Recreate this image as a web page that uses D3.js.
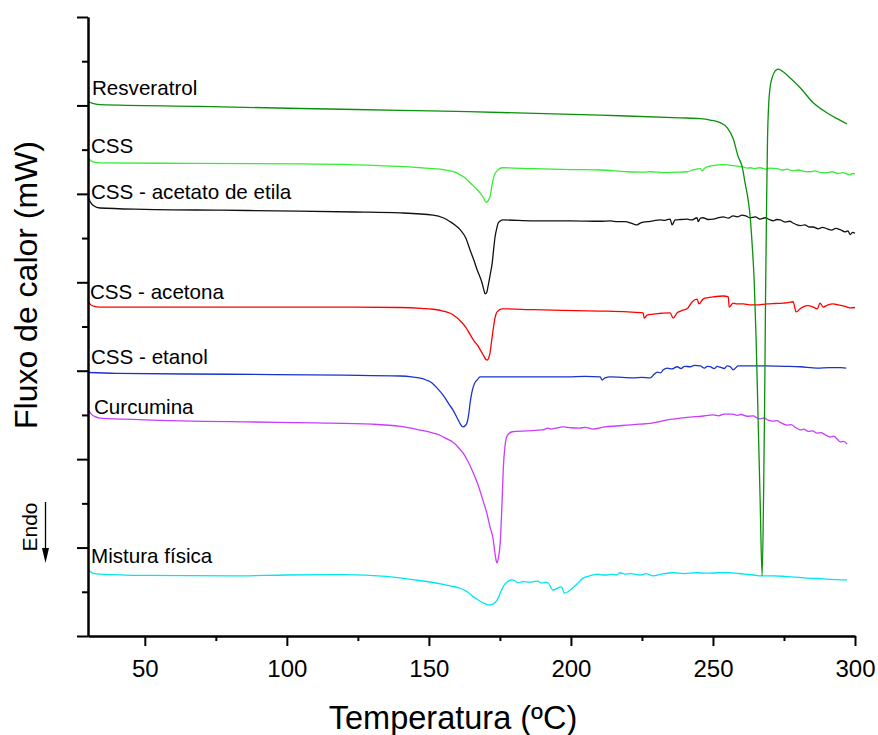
<!DOCTYPE html>
<html>
<head>
<meta charset="utf-8">
<title>DSC - Fluxo de calor</title>
<script src="https://cdn.jsdelivr.net/npm/d3@7/dist/d3.min.js"></script>
<style>
  body { margin: 0; background: #fff; }
  svg text { font-family: Arial, "Liberation Sans", sans-serif; fill: #000; }
  .axis path, .axis line { stroke: #000; stroke-width: 2; }
  .axis text { font-size: 24px; }
  .curve { fill: none; stroke-width: 1.3; }
  .label { font-size: 20.6px; }
</style>
</head>
<body>
<svg id="chart" width="878" height="735"></svg>
<script>
// temperature (ºC), heat flow (arbitrary, curves stacked)
var resveratrol = [[30,12.10],[31.4,12.05],[34.2,12.02],[69.4,11.98],[104.6,11.93],[139.9,11.89],[163.8,11.86],
  [210.3,11.78],[238.5,11.72],[245.5,11.70],[249,11.67],[252.5,11.61],[255,11.50],[257.1,11.25],[258.9,10.84],
  [260.3,10.61],[261.3,10.25],[262.4,9.86],[263.1,9.48],[263.8,8.85],[264.5,8.05],[265.2,6.70],[265.9,4.89],
  [266.6,3.08],[267.3,1.36],[267.8,3.08],[268.2,5.34],[268.5,7.60],[268.9,9.86],[269.2,11.22],[269.6,12.01],
  [270.1,12.40],[270.8,12.62],[271.9,12.78],[273.0,12.82],[274.7,12.76],[277.2,12.62],[280.7,12.40],
  [285.3,12.06],[290.2,11.83],[293.7,11.70],[297.2,11.58]];

var css = [[30,10.81],[31,10.75],[32.5,10.71],[34.2,10.70],[65,10.69],[105,10.68],[140,10.62],[147.3,10.59],
  [151.5,10.57],[155,10.55],[157.5,10.52],[160,10.47],[161,10.43],[162.8,10.36],[164.5,10.25],[166.3,10.14],
  [168,10.02],[169.3,9.90],[170.1,9.81],[170.8,9.84],[171.5,9.93],[172.1,10.15],[172.6,10.32],[173.3,10.46],
  [174,10.52],[175.8,10.59],[186.7,10.57],[200,10.55],[210.3,10.54],[219.8,10.50],[226,10.49],[228,10.50],
  [232.5,10.48],[237,10.49],[240.9,10.50],[243,10.54],[245.5,10.57],[246.3,10.52],[247,10.58],[250.1,10.64],
  [253.6,10.66],[257.1,10.64],[259,10.62],[260.6,10.61],[262,10.58],[263.1,10.59],[264.5,10.57],[266.6,10.59],
  [268.5,10.56],[270,10.58],[272.6,10.57],[274.5,10.54],[276,10.56],[278.2,10.52],[280,10.54],[282,10.51],
  [284.2,10.50],[286,10.52],[288,10.48],[290.2,10.48],[292,10.50],[294,10.46],[295.8,10.48],[297.5,10.44],
  [298.3,10.43],[299,10.46],[300,10.45]];

var acetato = [[30,9.93],[30.8,9.82],[32,9.73],[34.2,9.68],[50,9.65],[76.8,9.63],[104,9.61],[124,9.59],
  [139.9,9.57],[151.5,9.52],[155,9.46],[157.5,9.37],[159.5,9.28],[161,9.19],[163,9.00],[164.5,8.73],[166,8.47],
  [167,8.28],[168,8.12],[168.7,7.99],[169.3,7.84],[169.8,7.74],[170.3,7.76],[170.8,7.90],[171.6,8.18],
  [172.3,8.44],[172.8,8.75],[173.3,9.03],[173.9,9.22],[174.4,9.34],[175.2,9.39],[176.1,9.41],[186.7,9.39],
  [200,9.39],[210.3,9.38],[214,9.39],[216.3,9.37],[219,9.37],[221.9,9.32],[223.3,9.30],[224.4,9.34],
  [226.8,9.37],[229,9.39],[231.4,9.41],[233,9.40],[234.9,9.43],[235.6,9.30],[236.7,9.41],[238.8,9.42],
  [240.9,9.43],[242.5,9.41],[244.4,9.46],[244.8,9.37],[245.6,9.45],[246.5,9.46],[248.3,9.42],[250.1,9.43],
  [252,9.46],[253.6,9.48],[255.4,9.45],[257.1,9.50],[258.6,9.48],[260.3,9.52],[261.5,9.50],[263.1,9.46],
  [264.9,9.48],[266.6,9.43],[268.4,9.46],[269.8,9.42],[271.2,9.39],[272.5,9.42],[273.7,9.41],[275.5,9.36],
  [277,9.38],[278.2,9.34],[279.5,9.30],[280.7,9.28],[282.3,9.30],[284,9.25],[285.3,9.25],[287,9.21],
  [288.6,9.24],[290.2,9.21],[291.8,9.18],[293.2,9.22],[294.8,9.19],[296.5,9.14],[297.5,9.16],[298.3,9.08],
  [299.2,9.13],[300,9.11]];

var acetona = [[30,7.60],[30.8,7.50],[32,7.46],[34.2,7.44],[70,7.44],[124,7.44],[139.9,7.43],[147.3,7.41],
  [151.5,7.39],[155,7.35],[157.5,7.30],[159.2,7.23],[161,7.13],[163,6.98],[164.5,6.82],[165.8,6.68],
  [167.3,6.56],[168.2,6.46],[169.1,6.36],[170,6.26],[170.5,6.24],[171,6.28],[171.5,6.40],[172.1,6.68],
  [172.6,6.92],[173.3,7.20],[174,7.33],[175.8,7.40],[186.7,7.38],[210.3,7.35],[220,7.33],[225.4,7.31],
  [225.8,7.19],[226.8,7.26],[229,7.28],[232,7.30],[234.9,7.31],[236.0,7.19],[237.4,7.31],[239,7.36],
  [240.9,7.40],[242.7,7.56],[244.4,7.62],[245.1,7.51],[246.5,7.62],[248,7.65],[250.1,7.67],[253.6,7.69],
  [255.4,7.67],[255.7,7.44],[257.1,7.53],[258.5,7.51],[260.6,7.51],[263,7.49],[265.6,7.49],[267.3,7.50],
  [269.1,7.51],[272,7.52],[274.7,7.53],[276.5,7.54],[278.2,7.56],[279.3,7.33],[280.7,7.40],[282,7.45],
  [283.2,7.47],[285.3,7.44],[286.7,7.40],[287.7,7.53],[288.8,7.44],[290.5,7.49],[292.3,7.51],[294,7.49],
  [295.5,7.47],[297.2,7.44],[298.5,7.42],[300,7.43]];

var etanol = [[30,5.96],[40,5.94],[80,5.92],[120,5.90],[139.9,5.88],[144,5.86],[147,5.83],[149,5.79],
  [151,5.73],[153,5.60],[155,5.45],[157,5.25],[158.5,5.11],[160.3,4.89],[161.2,4.78],[162,4.73],[162.8,4.76],
  [163.5,4.84],[164.1,5.05],[164.5,5.27],[165.1,5.50],[165.6,5.63],[166.3,5.74],[167,5.79],[168,5.86],
  [175.1,5.86],[198.7,5.86],[205,5.87],[210.3,5.86],[211,5.79],[212,5.84],[213.8,5.86],[218,5.85],
  [221.9,5.84],[225,5.85],[227.9,5.84],[229.3,5.92],[230.4,5.97],[231.5,5.95],[232.5,6.02],[233.9,6.06],
  [235.5,6.04],[237.4,6.09],[238.7,6.05],[240,6.10],[242,6.09],[243.5,6.12],[245.5,6.11],[247,6.06],
  [248,6.10],[249,6.09],[250.5,6.05],[251.5,6.10],[252.5,6.08],[254,6.05],[255,6.11],[256.1,6.09],
  [257.1,6.02],[258.9,6.11],[262,6.11],[269.1,6.11],[275,6.10],[280.7,6.09],[286.7,6.06],[291,6.07],
  [295,6.07],[296.9,6.06]];

var curcumina = [[30,5.14],[31,5.03],[32.5,4.96],[34.2,4.93],[50,4.89],[88.8,4.84],[110,4.82],[130,4.79],
  [140,4.74],[146,4.67],[151.5,4.59],[153.9,4.54],[156,4.47],[158.5,4.38],[160.3,4.27],[162,4.14],
  [163.5,3.98],[165.6,3.69],[167.5,3.38],[169.1,3.05],[170.4,2.78],[171.5,2.47],[172.6,2.20],[173.2,1.90],
  [173.7,1.70],[174,1.65],[174.4,1.75],[175.1,2.10],[175.8,3.10],[176.2,3.80],[176.8,4.30],[177.5,4.52],
  [179.3,4.62],[184.6,4.64],[190,4.66],[192,4.70],[193,4.68],[197.3,4.73],[200,4.71],[203,4.70],[205,4.72],
  [207.8,4.68],[212,4.73],[216,4.75],[219.8,4.77],[224,4.79],[228,4.81],[230.5,4.84],[233.9,4.89],[238,4.92],
  [242,4.95],[246,4.97],[250.1,5.00],[252,4.98],[254,5.02],[256.8,5.02],[258.5,4.99],[260,5.01],[262,4.97],
  [264.2,4.98],[265.5,4.93],[266.6,4.91],[268,4.93],[269.5,4.88],[271.2,4.86],[272.5,4.87],[274,4.82],
  [276.1,4.77],[277.5,4.78],[279,4.72],[280.7,4.66],[282,4.68],[283.5,4.63],[285,4.64],[286.7,4.59],
  [288,4.60],[289.5,4.55],[291.3,4.50],[292.5,4.52],[293.8,4.45],[294.8,4.39],[296,4.40],[297.2,4.34]];

var mistura = [[30,1.52],[31,1.45],[32.5,1.41],[34.2,1.40],[50,1.37],[80.4,1.36],[100,1.38],[120,1.39],
  [135,1.35],[145,1.27],[151.5,1.21],[155,1.17],[158,1.13],[161,1.08],[163.5,1.00],[165.6,0.89],
  [167,0.83],[169.1,0.75],[171.2,0.70],[172.5,0.72],[174,0.81],[175,0.95],[176.1,1.11],[177.5,1.22],
  [179.3,1.27],[180.3,1.25],[181.4,1.20],[183,1.23],[185.6,1.22],[187,1.23],[188.5,1.24],[189.3,1.20],
  [190.2,1.20],[191,1.22],[192,1.20],[193.7,1.04],[195,1.07],[196.3,1.11],[196.9,1.09],[197.6,0.97],
  [199,1.00],[200.5,1.08],[202.2,1.18],[204.3,1.31],[206,1.35],[207.8,1.38],[209.5,1.40],[211,1.38],
  [212.7,1.38],[214.5,1.40],[216,1.38],[217.3,1.43],[219,1.40],[221,1.41],[224.4,1.38],[226.5,1.41],
  [228.9,1.36],[232,1.40],[236,1.43],[240,1.41],[244,1.43],[248,1.42],[252,1.43],[255,1.43],[258,1.42],
  [261,1.40],[264.2,1.38],[267,1.36],[271.2,1.36],[275,1.35],[279,1.33],[283.2,1.31],[287,1.30],
  [291,1.28],[294.8,1.27],[297.2,1.27]];

var seriesNames = ['Resveratrol', 'CSS', 'CSS - acetato de etila', 'CSS - acetona', 'CSS - etanol', 'Curcumina', 'Mistura física'];
var seriesData = [resveratrol, css, acetato, acetona, etanol, curcumina, mistura];
var xMajor = [50, 100, 150, 200, 250, 300];
var xMinor = [75, 125, 175, 225, 275];
var yMajor = [0, 2, 4, 6, 8, 10, 12, 14];
var yMinor = [1, 3, 5, 7, 9, 11, 13];

// styles / layout
var colors = ['#0a900a', '#33ee33', '#111111', '#ff0000', '#1a33cc', '#c83cff', '#00e6f0'];
var labelPos = [[92, 95], [91, 153], [91, 199], [90, 299], [91, 364], [94, 414], [91, 563]];

var svg = d3.select('#chart');
var x = d3.scaleLinear().domain([30, 300]).range([88, 855]);
var y = d3.scaleLinear().domain([0, 14]).range([636, 17]);

var line = d3.line()
    .x(function(d) { return x(d[0]); })
    .y(function(d) { return y(d[1]); })
    .curve(d3.curveMonotoneX);

// draw resveratrol last so its sharp peak sits on top
var order = [1, 2, 3, 4, 5, 6, 0];
order.forEach(function(i) {
    svg.append('path')
        .attr('class', 'curve')
        .attr('d', line(seriesData[i]))
        .attr('stroke', colors[i]);
});

// axes
svg.append('g').attr('class', 'axis')
    .attr('transform', 'translate(0,636)')
    .call(d3.axisBottom(x).tickValues(xMinor).tickSize(5).tickSizeOuter(0).tickFormat(''));
svg.append('g').attr('class', 'axis')
    .attr('transform', 'translate(0,636)')
    .call(d3.axisBottom(x).tickValues(xMajor).tickSize(10).tickSizeOuter(0).tickPadding(14));

svg.append('g').attr('class', 'axis')
    .attr('transform', 'translate(88,0)')
    .call(d3.axisLeft(y).tickValues(yMinor).tickSize(6).tickSizeOuter(0).tickFormat(''));
svg.append('g').attr('class', 'axis')
    .attr('transform', 'translate(88,0)')
    .call(d3.axisLeft(y).tickValues(yMajor).tickSize(11).tickSizeOuter(0).tickFormat(''));

svg.selectAll('.axis text').attr('font-family', 'Arial, "Liberation Sans", sans-serif');

// curve labels
seriesNames.forEach(function(name, i) {
    svg.append('text')
        .attr('class', 'label')
        .attr('x', labelPos[i][0])
        .attr('y', labelPos[i][1])
        .text(name);
});

// axis titles
svg.append('text')
    .attr('x', 453).attr('y', 729)
    .attr('text-anchor', 'middle')
    .style('font-size', '32.5px')
    .text('Temperatura (ºC)');

svg.append('text')
    .attr('transform', 'translate(37,285) rotate(-90)')
    .attr('text-anchor', 'middle')
    .style('font-size', '32px')
    .text('Fluxo de calor (mW)');

// endo marker
svg.append('text')
    .attr('transform', 'translate(37,527) rotate(-90)')
    .attr('text-anchor', 'middle')
    .style('font-size', '21px')
    .text('Endo');
svg.append('line')
    .attr('x1', 45.5).attr('y1', 502).attr('x2', 45.5).attr('y2', 552)
    .attr('stroke', '#000').attr('stroke-width', 1.3);
svg.append('path')
    .attr('d', 'M42,548 L49,548 L45.5,563 Z')
    .attr('fill', '#000');
</script>
</body>
</html>
